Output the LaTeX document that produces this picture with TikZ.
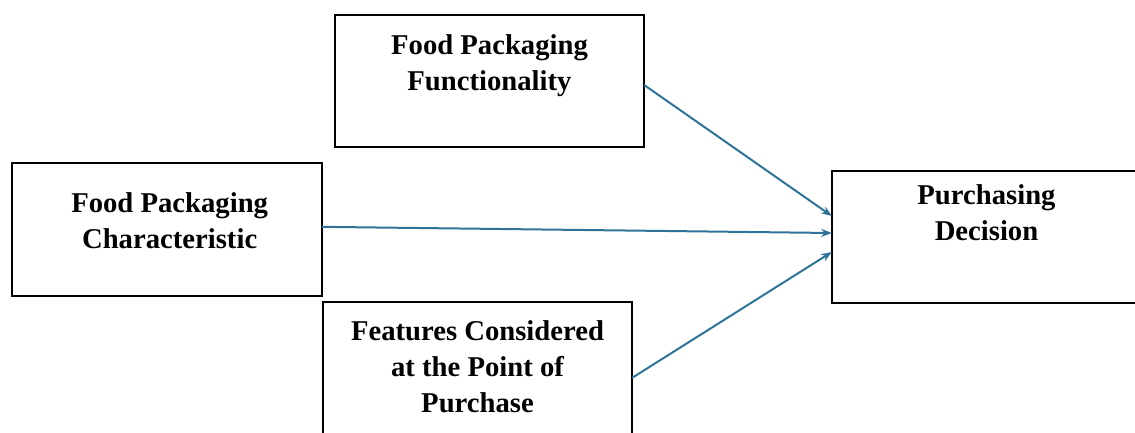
\documentclass[tikz,border=0pt]{standalone}
\usepackage{fontspec}
\setmainfont{Liberation Serif}
\usetikzlibrary{positioning,arrows.meta}

\definecolor{arrowblue}{RGB}{47,116,152}

\tikzset{every picture/.style={line width=0.75pt}}
\tikzset{
	varbox/.style={draw, line width=1.5, inner sep=0, outer sep=0, minimum width=232pt, minimum height=99.5pt},
	vartext/.style={inner sep=0, align=center, font=\fontsize{21.5}{27}\selectfont\bfseries},
	link/.style={draw=arrowblue, line width=1.5, -{Stealth[length=8pt,width=6pt]}}
}

\begin{document}
\begin{tikzpicture}[x=0.75pt,y=0.75pt,yscale=-1,xscale=1]
	\useasboundingbox (0,0) rectangle (1135,432);

	%Shape: Rectangle [id:func] 
	\node [varbox] (func) at (489.5,81) {};
	%Shape: Rectangle [id:charac] 
	\node [varbox] (charac) at (167,229.5) {};
	%Shape: Rectangle [id:feat] 
	\node [varbox] (feat) at (477.5,368.5) {};
	%Shape: Rectangle [id:purch] 
	\node [varbox] (purch) at (986.5,237) {};

	% Text Node
	\node [vartext, below=14.5pt of func.north] (functext) {Food Packaging\\Functionality};
	% Text Node
	\node [vartext, below=22pt of charac.north, xshift=2pt] (charactext) {Food Packaging\\Characteristic};
	% Text Node
	\node [vartext, below=13.1pt of feat.north] (feattext) {Features Considered\\at the Point of\\Purchase};
	% Text Node
	\node [vartext, below=10pt of purch.north] (purchtext) {Purchasing\\Decision};

	%Straight Lines [id:arrows] 
	\draw [link] ([yshift=3pt]func.east) -- ([yshift=-15.75pt]purch.west);
	\draw [link] ([yshift=-2pt]charac.east) -- ([yshift=-3pt]purch.west);
	\draw [link] ([yshift=7pt]feat.east) -- ([yshift=11.25pt]purch.west);

\end{tikzpicture}
\end{document}
